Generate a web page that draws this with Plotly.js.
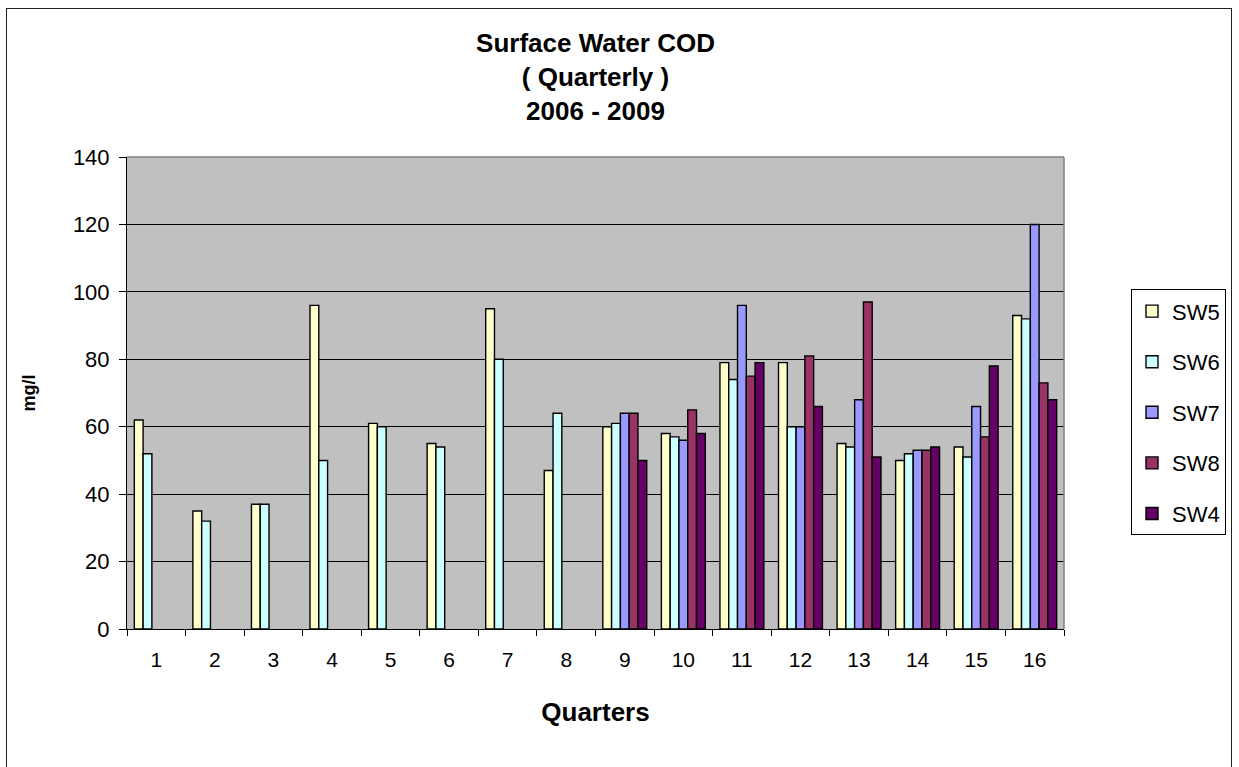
<!DOCTYPE html>
<html>
<head>
<meta charset="utf-8">
<script src="https://cdn.plot.ly/plotly-3.0.1.min.js"></script>
<style>
  html, body { margin: 0; padding: 0; background: #fff; overflow: hidden; }
  #chart { width: 1239px; height: 767px; position: relative; }
  #frame { position: absolute; left: 6px; top: 8px; width: 1226px; height: 800px;
           border: 1.5px solid #222; pointer-events: none; box-sizing: border-box; }
</style>
</head>
<body>
<div id="chart"></div>
<div id="frame"></div>
<script>
const quarters = ['1','2','3','4','5','6','7','8','9','10','11','12','13','14','15','16'];
const seriesNames = ['SW5','SW6','SW7','SW8','SW4'];
const sw5 = [62, 35, 37, 96, 61, 55, 95, 47, 60, 58, 79, 79, 55, 50, 54, 93];
const sw6 = [52, 32, 37, 50, 60, 54, 80, 64, 61, 57, 74, 60, 54, 52, 51, 92];
const sw7 = [null, null, null, null, null, null, null, null, 64, 56, 96, 60, 68, 53, 66, 120];
const sw8 = [null, null, null, null, null, null, null, null, 64, 65, 75, 81, 97, 53, 57, 73];
const sw4 = [null, null, null, null, null, null, null, null, 50, 58, 79, 66, 51, 54, 78, 68];
const yTicks = [0, 20, 40, 60, 80, 100, 120, 140];

const seriesValues = [sw5, sw6, sw7, sw8, sw4];
const colors = ['#FFFFCC', '#CCFFFF', '#9999FF', '#993366', '#660066'];
const FONT = '"Liberation Sans", Arial, sans-serif';

const traces = seriesNames.map((name, i) => ({
  type: 'bar',
  name: name,
  legendgroup: name,
  x: quarters,
  y: seriesValues[i],
  marker: { color: colors[i], line: { color: '#000', width: 1.4 } },
  hoverinfo: 'x+y+name'
}));

const layout = {
  width: 1239,
  height: 767,
  margin: { l: 127, r: 175, t: 157, b: 138 },
  paper_bgcolor: '#ffffff',
  plot_bgcolor: '#C0C0C0',
  font: { family: FONT, color: '#000', size: 22 },
  barmode: 'group',
  bargap: 0.25,
  bargroupgap: 0,
  title: {
    text: '<b>Surface Water COD<br>( Quarterly )<br>2006 - 2009</b>',
    font: { family: FONT, size: 26, color: '#000' },
    x: 0.5, xref: 'paper', xanchor: 'center',
    y: 0.932, yref: 'container', yanchor: 'top'
  },
  xaxis: {
    type: 'category',
    range: [-0.5, 15.5],
    tickson: 'boundaries',
    ticks: 'outside',
    ticklen: 6,
    tickcolor: '#000',
    tickwidth: 1,
    showline: true,
    linecolor: '#000',
    linewidth: 1,
    showgrid: false,
    ticklabelstandoff: 12,
    tickfont: { family: FONT, size: 21, color: '#000' },
    title: { text: '<b>Quarters</b>', font: { family: FONT, size: 26, color: '#000' }, standoff: 32 },
    fixedrange: true
  },
  yaxis: {
    range: [0, 140],
    tickvals: yTicks,
    ticktext: yTicks.map(String),
    ticks: 'outside',
    ticklen: 7,
    tickcolor: '#000',
    showline: true,
    linecolor: '#000',
    linewidth: 1,
    showgrid: true,
    gridcolor: '#000',
    gridwidth: 1,
    zeroline: false,
    ticklabelstandoff: 5,
    tickfont: { family: FONT, size: 22, color: '#000' },
    title: { text: '<b>mg/l</b>', font: { family: FONT, size: 18, color: '#000' }, standoff: 32 },
    fixedrange: true
  },
  showlegend: true,
  legend: {
    x: 1.0715, xanchor: 'left', xref: 'paper',
    y: 0.7197, yanchor: 'top', yref: 'paper',
    bgcolor: '#ffffff',
    bordercolor: '#000',
    borderwidth: 1,
    font: { family: FONT, size: 22, color: '#000' },
    traceorder: 'grouped',
    tracegroupgap: 19,
    itemwidth: 30
  },
  shapes: [
    { type: 'line', xref: 'paper', yref: 'paper', x0: 0, x1: 1, y0: 1, y1: 1, line: { color: '#808080', width: 1.5 } },
    { type: 'line', xref: 'paper', yref: 'paper', x0: 1, x1: 1, y0: 0, y1: 1, line: { color: '#808080', width: 1.5 } }
  ]
};

Plotly.newPlot('chart', traces, layout, { displayModeBar: false, staticPlot: false });
</script>
</body>
</html>
